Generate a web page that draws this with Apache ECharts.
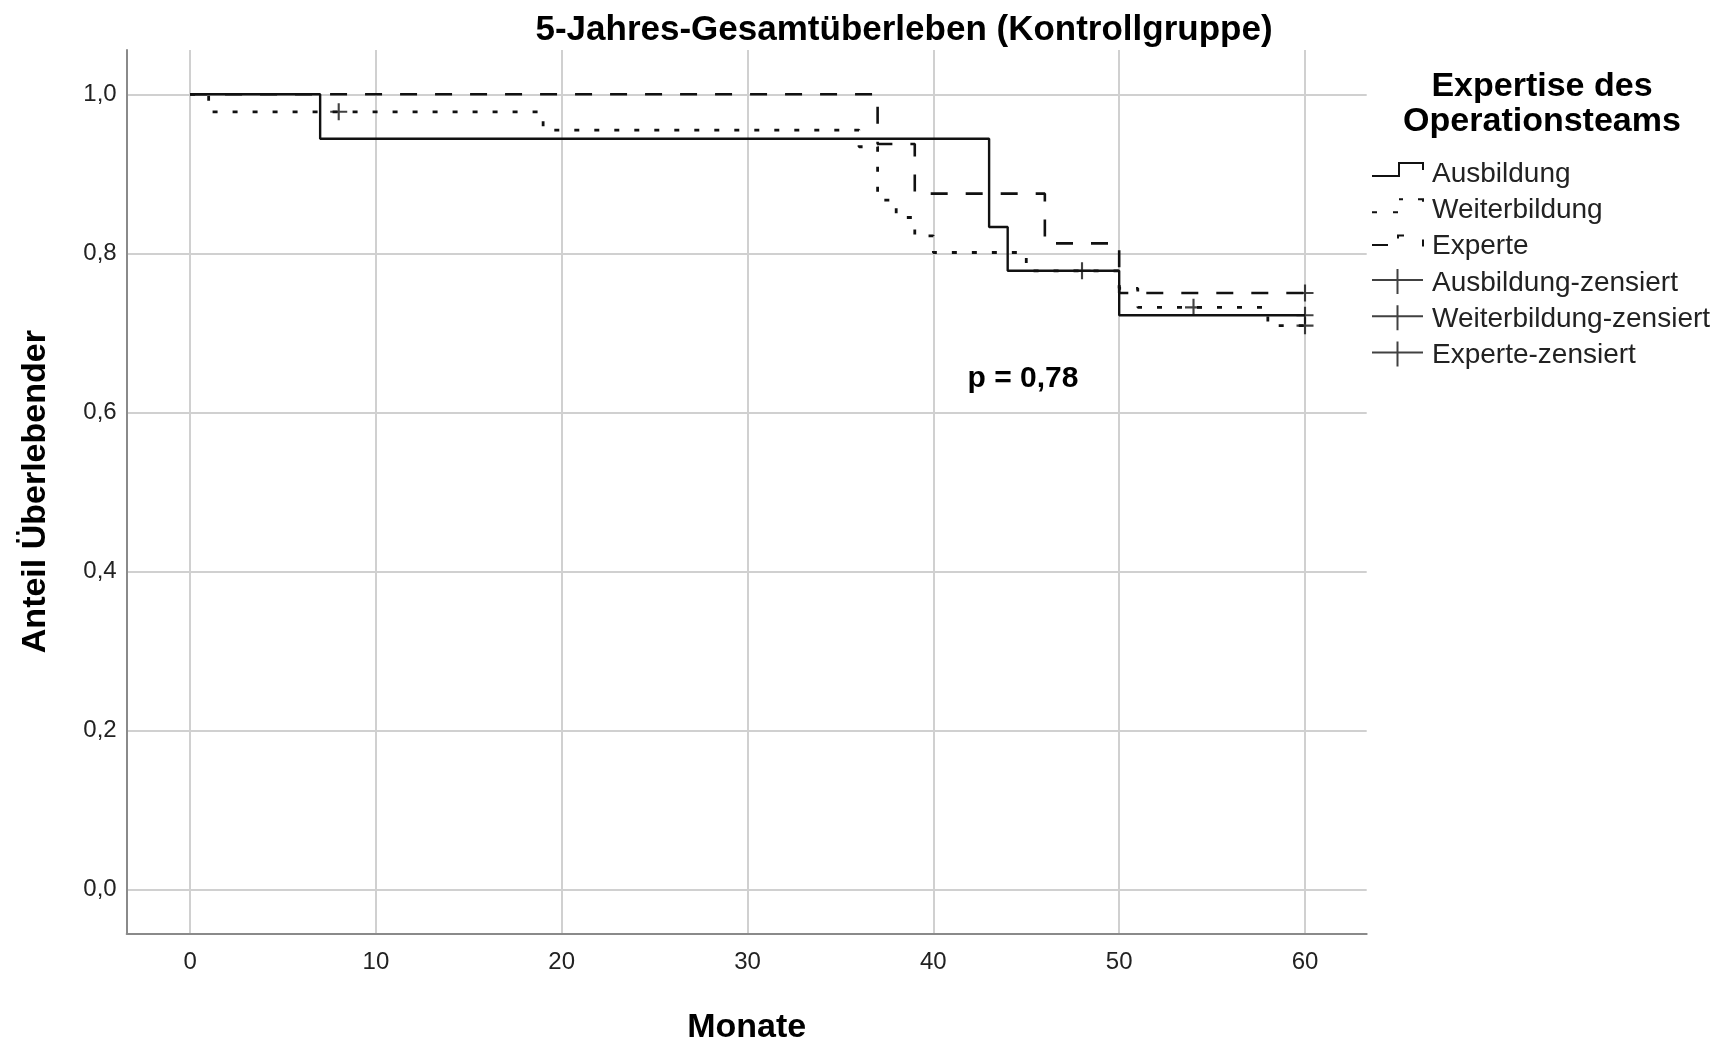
<!DOCTYPE html>
<html>
<head>
<meta charset="utf-8">
<script src="https://cdn.jsdelivr.net/npm/echarts@6/dist/echarts.min.js"></script>
<style>
  html, body { margin: 0; padding: 0; background: #fff; }
  #chart { width: 1724px; height: 1041px; }
</style>
</head>
<body>
<div id="chart"></div>
<script>
// Kaplan-Meier step curves (month, survival after the event)
const ausbildungT = [0, 7, 43, 44, 50, 60]
const ausbildungS = [1, 0.944, 0.833, 0.778, 0.722, 0.722]
const weiterT = [0, 1, 19, 36, 37, 38, 39, 40, 45, 50, 51, 58, 60]
const weiterS = [1, 0.978, 0.955, 0.934, 0.867, 0.845, 0.822, 0.801, 0.778, 0.756, 0.732, 0.709, 0.709]
const experteT = [0, 37, 39, 46, 50, 60]
const experteS = [1, 0.9375, 0.875, 0.8125, 0.75, 0.75]

// censored observations
const ausbildungCensT = [48, 60]
const ausbildungCensS = [0.778, 0.722]
const weiterCensT = [8, 54, 60]
const weiterCensS = [0.978, 0.732, 0.709]
const experteCensT = [60]
const experteCensS = [0.75]

const xTicks = [0, 10, 20, 30, 40, 50, 60]
const yTicks = [0, 0.2, 0.4, 0.6, 0.8, 1.0]

const groupNames = ['Ausbildung', 'Weiterbildung', 'Experte']
const censNames = ['Ausbildung-zensiert', 'Weiterbildung-zensiert', 'Experte-zensiert']

const FONT = 'Liberation Sans, Arial, sans-serif'

const zip = (xs, ys) => xs.map((x, i) => [x, ys[i]])

// legend icons, drawn in a 55 x 28 box (anchors keep the scale 1:1)
const anchor = 'M0,0L0,0M55,28L55,28'
const icons = {
  Ausbildung: 'path://' + anchor + 'M0,15h28v2h-28zM26,2h2v15h-2zM26,2h26v2h-26zM50,2h2v8h-2z',
  Weiterbildung: 'path://' + anchor + 'M0,15h5v2h-5zM21,15h5v2h-5zM27,2h4v2h-4zM46,2h6v2h-6zM50,2h2v3.5h-2z',
  Experte: 'path://' + anchor + 'M0,11.5h16v2h-16zM25,2h7v2h-7zM25,2h2v4h-2zM50,7h2v7h-2z',
  cens: 'path://' + anchor + 'M0,10h51v2h-51zM24.5,0h2v25h-2z'
}
const plusSymbol = 'path://M0,7h16v2h-16zM7,0h2v16h-2z'

const chart = echarts.init(document.getElementById('chart'))

const lineSeries = (name, t, s, dash, width) => ({
  name,
  type: 'line',
  step: 'end',
  data: zip(t, s),
  showSymbol: false,
  symbol: 'none',
  itemStyle: { color: '#111' },
  lineStyle: { color: '#111', width, type: dash },
  z: 3
})

const censSeries = (name, t, s) => ({
  name,
  type: 'scatter',
  data: zip(t, s),
  symbol: plusSymbol,
  symbolSize: 17,
  itemStyle: { color: '#111' },
  z: 4
})

const option = {
  animation: false,
  backgroundColor: '#fff',
  title: [
    {
      text: '5-Jahres-Gesamtüberleben (Kontrollgruppe)',
      left: 899,
      top: 8,
      textAlign: 'center',
      textStyle: { fontFamily: FONT, fontSize: 35, fontWeight: 'bold', color: '#000' }
    },
    {
      text: 'Expertise des\nOperationsteams',
      left: 1537,
      top: 64,
      textAlign: 'center',
      textStyle: { fontFamily: FONT, fontSize: 34, fontWeight: 'bold', color: '#000', lineHeight: 35 }
    },
    {
      text: 'p = 0,78',
      left: 1018,
      top: 359,
      textAlign: 'center',
      textStyle: { fontFamily: FONT, fontSize: 30, fontWeight: 'bold', color: '#000' }
    }
  ],
  legend: {
    orient: 'vertical',
    left: 1372,
    top: 160,
    itemWidth: 55,
    itemHeight: 28,
    itemGap: 8.3,
    padding: 0,
    symbolKeepAspect: false,
    itemStyle: { borderWidth: 0 },
    textStyle: { fontFamily: FONT, fontSize: 28, color: '#222', lineHeight: 28 },
    data: [
      { name: groupNames[0], icon: icons.Ausbildung },
      { name: groupNames[1], icon: icons.Weiterbildung },
      { name: groupNames[2], icon: icons.Experte },
      { name: censNames[0], icon: icons.cens },
      { name: censNames[1], icon: icons.cens },
      { name: censNames[2], icon: icons.cens }
    ]
  },
  grid: { left: 126.7, right: 357.3, top: 50, bottom: 107.7, outerBoundsMode: 'none' },
  xAxis: {
    type: 'value',
    min: -3.41,
    max: 63.32,
    name: 'Monate',
    nameLocation: 'middle',
    nameGap: 77,
    nameTextStyle: { fontFamily: FONT, fontSize: 34, fontWeight: 'bold', color: '#000' },
    axisLine: { show: true, onZero: false, lineStyle: { color: '#8a8a8a', width: 2 } },
    axisTick: { show: false, customValues: xTicks },
    axisLabel: {
      customValues: xTicks,
      margin: 17,
      fontFamily: FONT,
      fontSize: 24,
      color: '#222'
    },
    splitLine: { show: true, lineStyle: { color: '#d0d0d0', width: 2 } }
  },
  yAxis: {
    type: 'value',
    min: -0.0553,
    max: 1.0557,
    name: 'Anteil Überlebender',
    nameLocation: 'middle',
    nameRotate: 90,
    nameGap: 74,
    nameTextStyle: { fontFamily: FONT, fontSize: 34, fontWeight: 'bold', color: '#000' },
    axisLine: { show: true, onZero: false, lineStyle: { color: '#8a8a8a', width: 2 } },
    axisTick: { show: false, customValues: yTicks },
    axisLabel: {
      customValues: yTicks,
      margin: 10,
      padding: [8, 0, 0, 0],
      fontFamily: FONT,
      fontSize: 24,
      color: '#222',
      formatter: v => v.toFixed(1).replace('.', ',')
    },
    splitLine: { show: true, lineStyle: { color: '#d0d0d0', width: 2 } }
  },
  series: [
    lineSeries(groupNames[0], ausbildungT, ausbildungS, 'solid', 2.4),
    lineSeries(groupNames[1], weiterT, weiterS, [5, 15], 2.8),
    lineSeries(groupNames[2], experteT, experteS, [17, 18], 2.6),
    censSeries(censNames[0], ausbildungCensT, ausbildungCensS),
    censSeries(censNames[1], weiterCensT, weiterCensS),
    censSeries(censNames[2], experteCensT, experteCensS)
  ]
}

chart.setOption(option)
</script>
</body>
</html>
